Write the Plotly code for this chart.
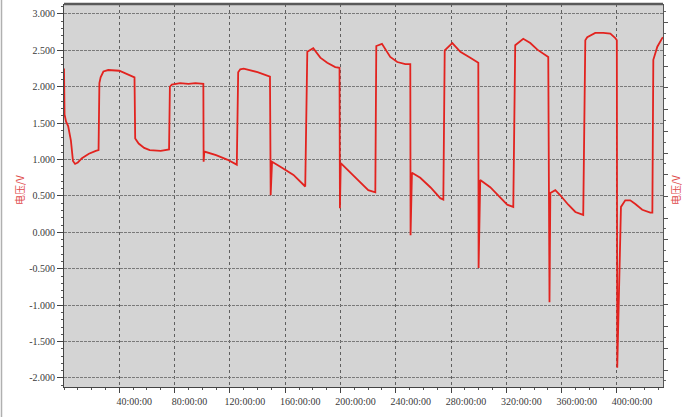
import plotly.graph_objects as go

# ---- data (time in hours, voltage in V) ----
time_h = [0, 0.4, 1.5, 3, 5, 6.5, 8, 10, 13, 18, 23, 25,
          25.6, 26.5, 28.5, 32, 40, 45, 50, 51,
          51.5, 54, 58, 62, 70, 76,
          76.6, 78, 84, 90, 95, 100.8,
          101.0, 101.5, 110, 118, 125,
          126, 127.5, 130, 140, 149,
          149.5, 150.5, 156.5, 166, 174.5,
          176, 180.3, 185.4, 190.4, 196.2, 199.3,
          199.6, 200.2, 207.1, 214.3, 220.1, 225.2,
          225.9, 230.0, 236.0, 241.1, 246.9, 250.5,
          250.7, 251.7, 257.7, 265.0, 272.2, 274.4,
          275.4, 280.9, 286.7, 293.9, 299.7,
          299.9, 301.1, 308.3, 315.6, 320.6, 325.0,
          326.4, 332.2, 337.3, 342.4, 346.7, 350.3,
          351.2, 351.8, 355.4, 359.0, 364.8, 369.9, 375.6,
          377.1, 378.5, 384.3, 390.1, 395.2, 398.8, 399.9,
          400.2, 402.9, 406.0, 409.6, 413.3, 418.3, 424.1, 425.6,
          426.3, 429.2, 432.8, 433.3]
voltage_v = [2.25, 1.62, 1.52, 1.46, 1.26, 0.98, 0.94, 0.96, 1.02, 1.08, 1.12, 1.13,
             2.05, 2.13, 2.21, 2.23, 2.22, 2.18, 2.14, 2.13,
             1.29, 1.22, 1.16, 1.13, 1.12, 1.14,
             2.00, 2.03, 2.05, 2.04, 2.05, 2.04,
             0.97, 1.11, 1.06, 1.00, 0.93,
             2.20, 2.24, 2.25, 2.20, 2.14,
             0.51, 0.97, 0.90, 0.79, 0.63,
             2.48, 2.53, 2.40, 2.33, 2.27, 2.26,
             0.33, 0.95, 0.82, 0.69, 0.58, 0.55,
             2.56, 2.59, 2.41, 2.34, 2.31, 2.31,
             -0.04, 0.82, 0.75, 0.62, 0.47, 0.45,
             2.50, 2.60, 2.48, 2.40, 2.33,
             -0.49, 0.72, 0.62, 0.47, 0.38, 0.35,
             2.57, 2.66, 2.60, 2.51, 2.46, 2.41,
             -0.96, 0.54, 0.58, 0.51, 0.38, 0.28, 0.24,
             2.64, 2.68, 2.74, 2.74, 2.73, 2.67, 2.64,
             -1.86, 0.35, 0.44, 0.44, 0.39, 0.31, 0.27, 0.27,
             2.37, 2.55, 2.67, 2.68]

x_tick_vals = [40, 80, 120, 160, 200, 240, 280, 320, 360, 400]
x_tick_text = ["40:00:00", "80:00:00", "120:00:00", "160:00:00", "200:00:00",
               "240:00:00", "280:00:00", "320:00:00", "360:00:00", "400:00:00"]
y_tick_vals = [3.0, 2.5, 2.0, 1.5, 1.0, 0.5, 0.0, -0.5, -1.0, -1.5, -2.0]
y_tick_text = ["3.000", "2.500", "2.000", "1.500", "1.000", "0.500", "0.000",
               "-0.500", "-1.000", "-1.500", "-2.000"]
axis_title = "电压/V"

tick_font = dict(family="Liberation Serif", size=10, color="#3a3a3a")

fig = go.Figure()
fig.add_trace(go.Scatter(x=time_h, y=voltage_v, mode="lines",
                         line=dict(color="#e2231f", width=1.8),
                         showlegend=False, hoverinfo="skip"))
# dummy trace so that the right-hand axis is drawn
fig.add_trace(go.Scatter(x=[0], y=[0], yaxis="y2", mode="markers",
                         marker=dict(opacity=0), showlegend=False, hoverinfo="skip"))

fig.update_layout(
    width=697, height=417,
    margin=dict(l=64, r=34, t=4, b=30),
    paper_bgcolor="white",
    plot_bgcolor="#d4d4d4",
    xaxis=dict(range=[0, 433.3], tickvals=x_tick_vals, ticktext=x_tick_text,
               tickfont=tick_font, ticks="outside", ticklen=5, tickcolor="#444",
               ticklabelshift=15, ticklabelstandoff=0,
               showline=True, linecolor="#444", linewidth=1,
               showgrid=True, gridcolor="#5f5f5f", griddash="dot", gridwidth=1,
               minor=dict(dtick=10, tick0=0, ticks="outside", ticklen=2,
                          tickcolor="#555", showgrid=False),
               zeroline=False, fixedrange=True),
    yaxis=dict(range=[-2.124, 3.137], tickvals=y_tick_vals, ticktext=y_tick_text,
               tickfont=tick_font, ticks="outside", ticklen=6, tickcolor="#444",
               showline=True, linecolor="#444", linewidth=1,
               showgrid=True, gridcolor="#7a7a7a", griddash="3px,1px", gridwidth=1,
               minor=dict(dtick=0.1, tick0=0, ticks="outside", ticklen=2,
                          tickcolor="#555", showgrid=False),
               zeroline=False, fixedrange=True),
    yaxis2=dict(overlaying="y", side="right", range=[-0.783, 16.866],
                dtick=1, tick0=0, showticklabels=False, ticks="outside",
                ticklen=4, tickcolor="#555", showline=True, linecolor="#555",
                linewidth=1, showgrid=False, zeroline=False,
                minor=dict(dtick=0.5, tick0=0, ticks="outside", ticklen=2,
                           tickcolor="#666"),
                fixedrange=True),
    shapes=[
        dict(type="line", xref="paper", yref="paper", x0=0, x1=1, y0=1, y1=1,
             line=dict(color="#5a5a5a", width=2.5)),
        dict(type="line", xref="paper", yref="paper", x0=-62.5/599, x1=-62.5/599,
             y0=-30/383, y1=1 + 4/383, line=dict(color="#b0b0b0", width=1.5)),
    ],
    annotations=[
        dict(text=axis_title, xref="paper", yref="paper", x=0, y=0.5,
             xshift=-54, yshift=5, textangle=-90, showarrow=False,
             font=dict(family="Noto Sans CJK SC", size=10, color="#e04a4a")),
        dict(text=axis_title, xref="paper", yref="paper", x=1, y=0.5,
             xshift=22, yshift=5, textangle=-90, showarrow=False,
             font=dict(family="Noto Sans CJK SC", size=10, color="#e04a4a")),
    ],
)

fig.write_html("out.html", config={"displayModeBar": False},
               post_script="document.body.style.margin='0';document.body.style.overflow='hidden';")
